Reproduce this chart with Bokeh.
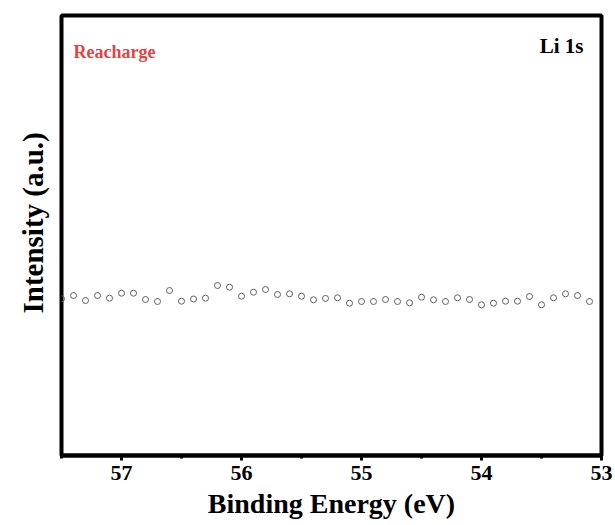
from bokeh.plotting import figure
from bokeh.models import Range1d, FixedTicker, Label, Title
from bokeh.embed import file_html
from bokeh.resources import INLINE

# Binding energy (eV), 57.5 -> 53.1 in 0.1 eV steps
energy = [57.5, 57.4, 57.3, 57.2, 57.1, 57.0, 56.9, 56.8, 56.7, 56.6,
          56.5, 56.4, 56.3, 56.2, 56.1, 56.0, 55.9, 55.8, 55.7, 55.6,
          55.5, 55.4, 55.3, 55.2, 55.1, 55.0, 54.9, 54.8, 54.7, 54.6,
          54.5, 54.4, 54.3, 54.2, 54.1, 54.0, 53.9, 53.8, 53.7, 53.6,
          53.5, 53.4, 53.3, 53.2, 53.1]
intensity = [156.7, 160.0, 155.0, 160.0, 157.3, 162.3, 162.3, 156.0, 154.0, 165.0,
             154.3, 156.5, 157.3, 170.0, 168.3, 159.3, 163.3, 166.0, 161.0, 161.7,
             159.3, 155.7, 157.1, 157.7, 152.3, 154.0, 154.0, 156.0, 154.0, 152.7,
             158.3, 155.7, 154.0, 157.7, 156.0, 150.7, 152.3, 154.3, 154.3, 159.0,
             150.7, 157.7, 161.7, 160.0, 154.0]
major_ticks = [57, 56, 55, 54, 53]
minor_ticks = [57.5, 56.5, 55.5, 54.5, 53.5]

FONT = "Liberation Serif"

p = figure(width=615, height=525, output_backend="svg", toolbar_location=None,
           x_range=Range1d(57.5, 53.0), y_range=Range1d(0, 440),
           min_border_left=61, min_border_right=14, min_border_top=15,
           min_border_bottom=70)
p.background_fill_color = "white"
p.border_fill_color = "white"
p.grid.visible = False
p.outline_line_color = "black"
p.outline_line_width = 4

p.scatter(energy, intensity, marker="circle", size=6, fill_color=None,
          line_color="#606060", line_width=1)

xa = p.xaxis[0]
xa.ticker = FixedTicker(ticks=major_ticks, minor_ticks=minor_ticks)
xa.axis_line_width = 4
xa.major_tick_line_width = 3
xa.minor_tick_line_width = 3
xa.major_tick_out = 5
xa.major_tick_in = 0
xa.minor_tick_out = 3
xa.minor_tick_in = 0
xa.major_label_text_font = FONT
xa.major_label_text_font_style = "bold"
xa.major_label_text_font_size = "22px"
xa.major_label_text_color = "black"
xa.major_label_standoff = 5
xa.axis_label = "Binding Energy (eV)"
xa.axis_label_text_font = FONT
xa.axis_label_text_font_style = "bold"
xa.axis_label_text_font_size = "28px"
xa.axis_label_text_color = "black"
xa.axis_label_standoff = 5

p.yaxis.visible = False

# y-axis title, placed slightly above the frame centre as in the reference
p.add_layout(Title(text="Intensity (a.u.)", align="left", offset=142,
                   standoff=25, text_font=FONT, text_font_style="bold",
                   text_font_size="29px", text_color="black"), "left")

p.add_layout(Label(x=57.4, y=404, text="Reacharge", text_font=FONT,
                   text_font_style="bold", text_font_size="18px",
                   text_color="#e04545", text_baseline="middle", text_align="left"))
p.add_layout(Label(x=53.15, y=410, text="Li 1s", text_font=FONT,
                   text_font_style="bold", text_font_size="21px",
                   text_color="black", text_baseline="middle", text_align="right"))

open("out.html", "w").write(file_html(p, INLINE))
